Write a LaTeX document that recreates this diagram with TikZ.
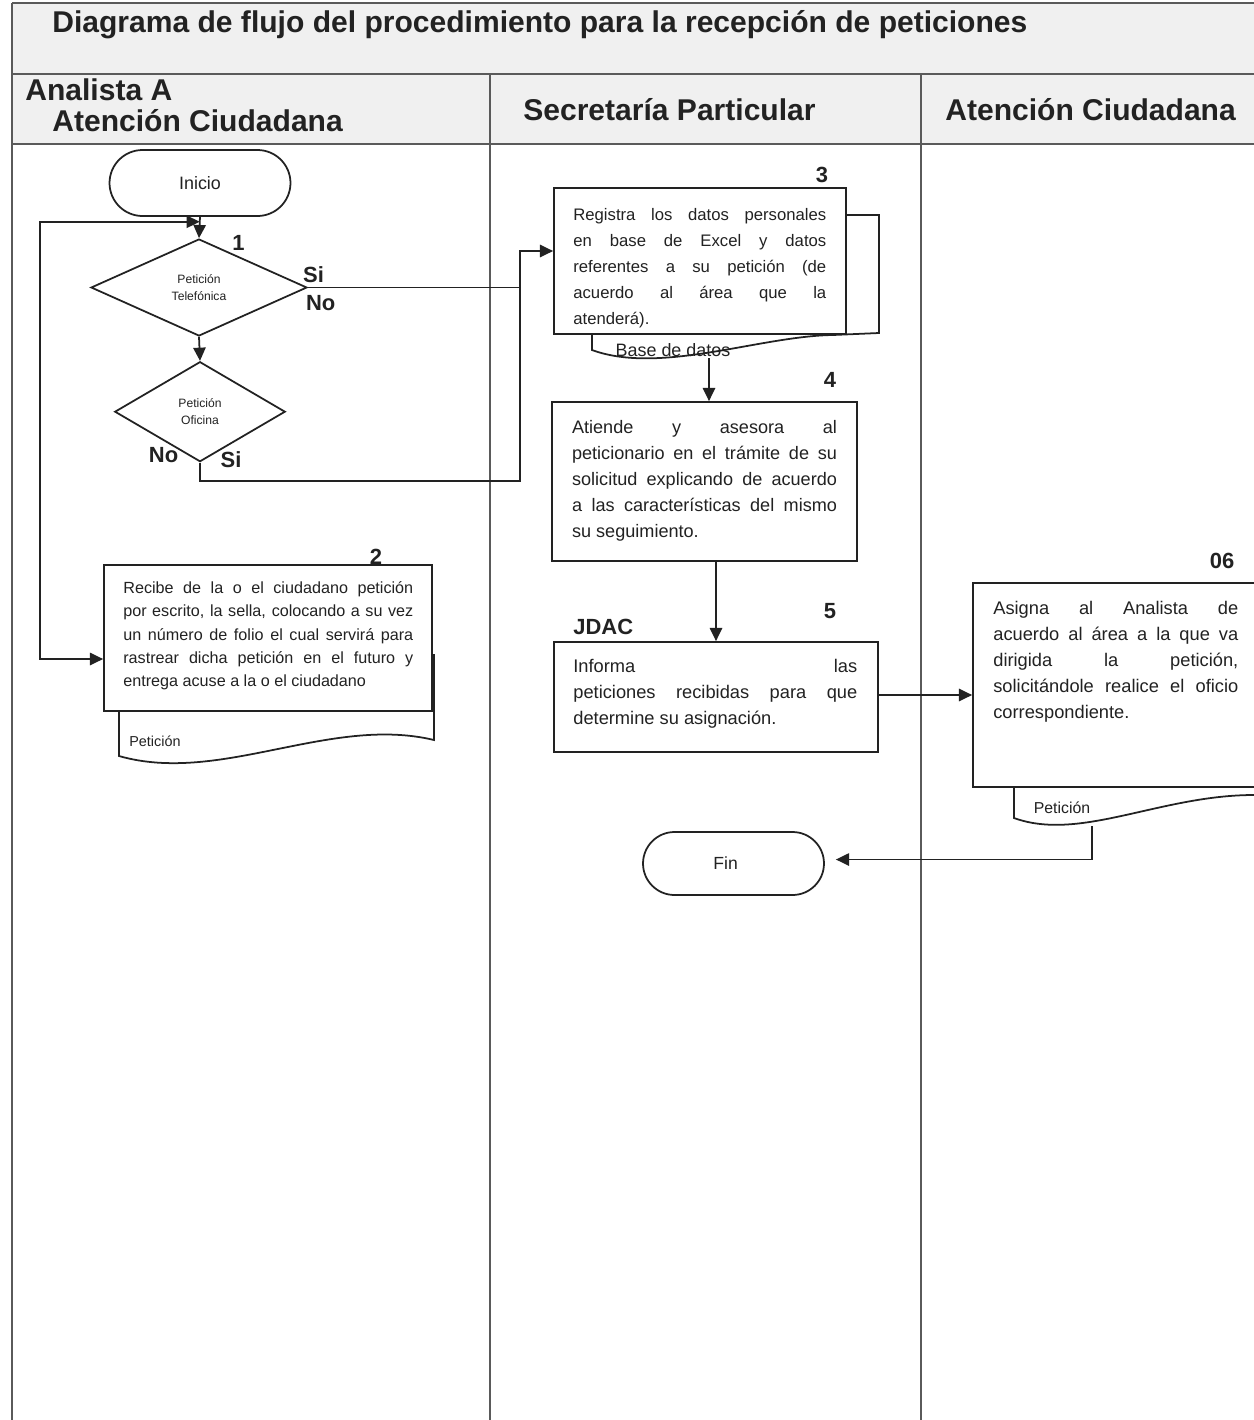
\documentclass[tikz,border=0pt]{standalone}
\usepackage{fontspec}
\setmainfont{Liberation Sans}
\usetikzlibrary{shapes.geometric,shapes.misc,arrows.meta,calc}
\tolerance=10000 \hbadness=10000 \hyphenpenalty=10000 \exhyphenpenalty=10000
\definecolor{hdrgray}{HTML}{F0F0F0}
\definecolor{lanegray}{HTML}{5A5A5A}
\definecolor{ink}{HTML}{222222}
\begin{document}
\begin{tikzpicture}[x=0.02cm,y=-0.02cm,
  lane/.style={draw=lanegray,line width=1.2pt},
  shp/.style={draw=ink,line width=1pt,fill=white,text=ink},
  procbox/.style={shp,rectangle,inner sep=0pt},
  term/.style={shp,rounded rectangle,inner sep=0pt,minimum width=3.62cm},
  decision/.style={shp,diamond,inner sep=0pt,align=center,font=\fontsize{6.9}{9.7}\selectfont},
  flow/.style={draw=ink,line width=1pt,-{Triangle[length=7.5pt,width=7pt]}},
  dflow/.style={draw=ink,line width=1pt,{Triangle[length=7.5pt,width=7pt]}-{Triangle[length=7.5pt,width=7pt]}},
  plain/.style={draw=ink,line width=1pt},
  numlbl/.style={font=\fontsize{12.5}{14}\selectfont\bfseries,inner sep=0pt,text=ink},
  hdr/.style={font=\fontsize{17.1}{17}\selectfont\bfseries,inner sep=0pt,text=ink,anchor=base west},
  txt/.style={inner sep=0pt,align=justify,anchor=base west,text=ink},
  doclbl/.style={inner sep=0pt,text=ink}
]
\useasboundingbox (0,0) rectangle (1254,1420);
\clip (0,0) rectangle (1254,1420);
\fill[white] (0,0) rectangle (1254,1420);
\fill[hdrgray] (12,3) rectangle (1254,144);

% swimlane frame
\draw[lane] (12,3) -- (1254,3);
\draw[lane] (12,74) -- (1254,74);
\draw[lane] (12,144) -- (1254,144);
\draw[lane] (12,3) -- (12,1420);
\draw[lane] (490,74) -- (490,1420);
\draw[lane] (921,74) -- (921,1420);

% title and lane headers
\node[hdr] (title) at (52,32) {Diagrama de flujo del procedimiento para la recepción de peticiones};
\node[hdr] (h1a) at (25,100) {Analista A};
\node[hdr] (h1b) at (52,131.5) {Atención Ciudadana};
\node[hdr] (h2) at (523,120) {Secretaría Particular};
\node[hdr] (h3) at (945,120) {Atención Ciudadana};

% documents (behind the boxes)
\draw[shp] (119,655) -- (119,756) .. controls (220,785) and (330,715) .. (434,740) -- (434,655) -- cycle;
\node[doclbl,font=\fontsize{8.2}{10}\selectfont] (doc2) at (155,741) {Petición};

\draw[shp] (592,300) -- (592,350) .. controls (660,375) and (760,336) .. (833,335) -- (879,333) -- (879,215) -- (600,215) -- cycle;
\node[doclbl,font=\fontsize{10.2}{12}\selectfont] (doc3) at (673,350) {Base de datos};

\draw[shp] (1014,760) -- (1014,818) .. controls (1080,842) and (1160,795) .. (1254,795) -- (1270,795) -- (1270,760) -- cycle;
\node[doclbl,font=\fontsize{9}{11}\selectfont] (doc6) at (1062,808) {Petición};

% terminals and decisions
\node[term,minimum height=1.32cm,font=\fontsize{10.2}{12}\selectfont] (ini) at (200,183) {Inicio};
\node[decision,minimum width=4.32cm,minimum height=1.94cm] (d1) at (199,287.5) {Petición\\Telefónica};
\node[decision,minimum width=3.41cm,minimum height=2.0cm] (d2) at (200,411.7) {Petición\\Oficina};
\node[term,minimum height=1.26cm,font=\fontsize{10}{12}\selectfont] (fin) at (733.5,863.5) {Fin\hspace*{9pt}};

% process boxes
\node[procbox,minimum width=6.56cm,minimum height=2.92cm] (b2) at (268,638) {};
\node[procbox,minimum width=5.84cm,minimum height=2.92cm] (b3) at (700,261) {};
\node[procbox,minimum width=6.10cm,minimum height=3.18cm] (b4) at (704.5,481.5) {};
\node[procbox,minimum width=6.48cm,minimum height=2.20cm] (b5) at (716,697) {};
\node[procbox,minimum width=5.94cm,minimum height=4.08cm] (b6) at (1121.5,685) {};

% box texts
\node[txt,text width=5.80cm,font=\fontsize{9.2}{13.3}\selectfont] (t2) at (123,593.3)
 {Recibe de la o el ciudadano petición\linebreak por escrito, la sella, colocando a su vez\linebreak un número de folio el cual servirá para\linebreak rastrear dicha petición en el futuro y\linebreak entrega acuse a la o el ciudadano};
\node[txt,text width=5.06cm,font=\fontsize{9.5}{14.8}\selectfont] (t3) at (573,220.7)
 {Registra los datos personales\linebreak en base de Excel y datos\linebreak referentes a su petición (de\linebreak acuerdo al área que la\linebreak atenderá).};
\node[txt,text width=5.30cm,font=\fontsize{10.3}{14.8}\selectfont] (t4) at (571.7,433.3)
 {Atiende y asesora al\linebreak peticionario en el trámite de su\linebreak solicitud explicando de acuerdo\linebreak a las características del mismo\linebreak su seguimiento.};
\node[txt,text width=5.68cm,font=\fontsize{10.4}{14.8}\selectfont] (t5) at (573,672.7)
 {Informa las\linebreak peticiones recibidas para que\linebreak determine su asignación.};
\node[txt,text width=4.90cm,font=\fontsize{10.4}{14.8}\selectfont] (t6) at (993,614)
 {Asigna al Analista de\linebreak acuerdo al área a la que va\linebreak dirigida la petición,\linebreak solicitándole realice el oficio\linebreak correspondiente.};

% step numbers and labels
\node[numlbl] (n1) at (238.6,242.7) {1};
\node[numlbl] (n2) at (376,556.7) {2};
\node[numlbl] (n3) at (822,174.7) {3};
\node[numlbl] (n4) at (830,380) {4};
\node[numlbl] (n5) at (830,610.7) {5};
\node[numlbl] (n6) at (1222,561) {06};
\node[numlbl,anchor=west] (jdac) at (573,626.7) {JDAC};
\node[numlbl] (si1) at (313.6,275) {Si};
\node[numlbl] (no1) at (320.7,303.3) {No};
\node[numlbl] (no2) at (163.6,455) {No};
\node[numlbl] (si2) at (231,459.3) {Si};

% connectors
\coordinate (jn) at ($(ini.south)!0.23!(d1.north)$);
\coordinate (dbout) at (709,358);
\coordinate (d6out) at (1092,826);
\draw[flow] (ini.south) -- (d1.north);
\draw[dflow] (jn) -| (40,659) -- ($(b2.west)+(0,21)$);
\draw[flow] (d1.south) -- (d2.north);
\draw[flow] (d1.east) -- (520,287.5) |- ($(b3.west)+(0,-10)$);
\draw[plain] (d2.south) |- (520,481) -- (520,287.5);
\draw[flow] (dbout) -- (dbout |- b4.north);
\draw[flow] (b5.north |- b4.south) -- (b5.north);
\draw[flow] ($(b5.east)+(0,-2)$) -- ($(b5.east -| b6.west)+(0,-2)$);
\draw[flow,shorten >=0.22cm] (d6out) |- ($(fin.east)+(0,-4)$);
\end{tikzpicture}
\end{document}
